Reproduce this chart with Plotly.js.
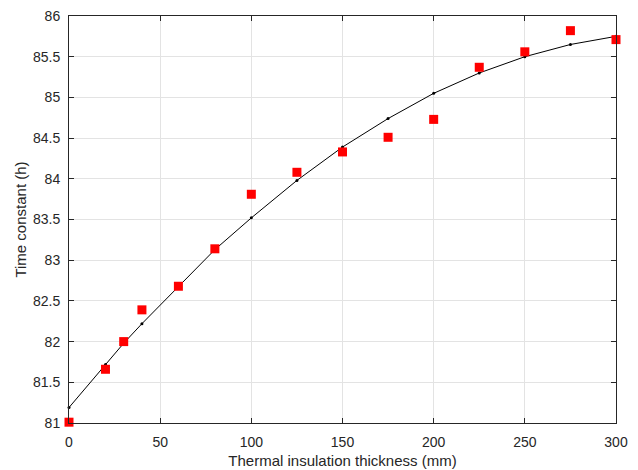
<!DOCTYPE html>
<html><head><meta charset="utf-8">
<script src="https://cdn.plot.ly/plotly-3.0.1.min.js"></script>
<style>body{margin:0}#c{width:638px;height:470px}</style>
</head><body><div id="c"></div>
<script>
const fitX = [0,20,30,40,60,80,100,125,150,175,200,225,250,275,300];
const fitY = [81.19,81.72,81.98,82.22,82.68,83.13,83.52,83.98,84.39,84.74,85.05,85.30,85.50,85.65,85.75];
const measX = [0,20,30,40,60,80,100,125,150,175,200,225,250,275,300];
const measY = [81.01,81.66,82.00,82.39,82.68,83.14,83.81,84.08,84.33,84.51,84.73,85.37,85.56,85.82,85.71];
const xTicks = [0,50,100,150,200,250,300];
const yTicks = [81,81.5,82,82.5,83,83.5,84,84.5,85,85.5,86];

const FONT = 'Liberation Sans, Arial, sans-serif';
const axisCommon = {
  showline:true, linecolor:'#262626', linewidth:1, mirror:'ticks',
  ticks:'inside', ticklen:5, tickcolor:'#262626',
  showgrid:true, gridcolor:'#e3e3e3', gridwidth:1, zeroline:false,
  tickfont:{family:FONT, size:14, color:'#262626'}
};
const data = [
  {x:fitX, y:fitY, mode:'lines+markers', type:'scatter',
   line:{color:'#000', width:1}, marker:{color:'#000', size:3}, cliponaxis:false},
  {x:measX, y:measY, mode:'markers', type:'scatter',
   marker:{color:'#ff0000', symbol:'square', size:9}, cliponaxis:false}
];
const layout = {
  width:638, height:470, showlegend:false,
  paper_bgcolor:'#fff', plot_bgcolor:'#fff',
  margin:{l:69, r:22, t:16, b:47},
  xaxis:Object.assign({}, axisCommon, {range:[0,300], tickvals:xTicks, ticktext:xTicks.map(String),
    ticklabelstandoff:6,
    title:{text:'Thermal insulation thickness (mm)', standoff:6, font:{family:FONT, size:15, color:'#262626'}}}),
  yaxis:Object.assign({}, axisCommon, {range:[81,86], tickvals:yTicks, ticktext:yTicks.map(String),
    ticklabelstandoff:5,
    title:{text:'Time constant (h)', standoff:2, font:{family:FONT, size:15, color:'#262626'}}})
};
Plotly.newPlot('c', data, layout, {displayModeBar:false, staticPlot:true});
</script></body></html>
